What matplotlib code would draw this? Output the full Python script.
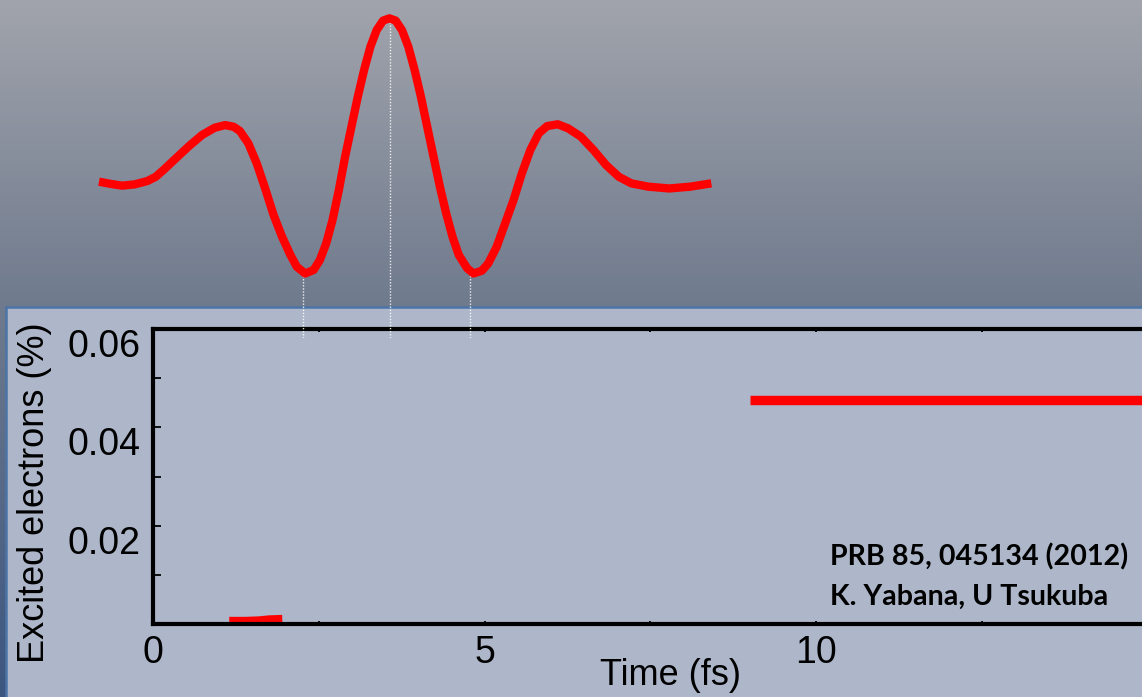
import numpy as np
import matplotlib.pyplot as plt
from matplotlib.patches import Rectangle
from matplotlib.colors import LinearSegmentedColormap

# Impulsion laser : champ électrique (unités arbitraires) en fonction du temps (fs)
temps_impulsion = [-0.815, -0.657, -0.466, -0.276, -0.085, 0.042, 0.169, 0.359,
                   0.549, 0.740, 0.930, 1.089, 1.216, 1.311, 1.438, 1.565,
                   1.692, 1.819, 1.946, 2.073, 2.168, 2.295, 2.422, 2.517,
                   2.612, 2.708, 2.803, 2.898, 2.993, 3.089, 3.184, 3.279,
                   3.374, 3.470, 3.565, 3.660, 3.755, 3.851, 3.946, 4.041,
                   4.136, 4.231, 4.327, 4.422, 4.517, 4.612, 4.739, 4.834,
                   4.961, 5.057, 5.184, 5.311, 5.438, 5.564, 5.691, 5.818,
                   5.945, 6.104, 6.263, 6.453, 6.644, 6.834, 7.025, 7.215,
                   7.469, 7.786, 8.104, 8.421]
champ_impulsion = [0.008, -0.004, -0.016, -0.008, 0.012, 0.038, 0.083, 0.155,
                   0.226, 0.291, 0.335, 0.351, 0.341, 0.315, 0.240, 0.119,
                   -0.033, -0.194, -0.325, -0.436, -0.507, -0.548, -0.527,
                   -0.467, -0.366, -0.224, -0.043, 0.160, 0.341, 0.523, 0.685,
                   0.826, 0.927, 0.984, 0.998, 0.984, 0.927, 0.826, 0.685,
                   0.523, 0.341, 0.160, -0.022, -0.184, -0.325, -0.436,
                   -0.517, -0.548, -0.531, -0.487, -0.386, -0.245, -0.103,
                   0.059, 0.200, 0.301, 0.345, 0.356, 0.331, 0.281, 0.200,
                   0.109, 0.038, -0.002, -0.022, -0.033, -0.022, -0.002]

# Extrema du champ, reliés au graphe par des pointillés
temps_extrema = [2.26, 3.57, 4.78]
champ_extrema = [-0.55, 0.99, -0.55]

# Proportion d'électrons excités (%)
temps_debut = [1.15, 1.40, 1.60, 1.75, 1.95]
excites_debut = [0.0005, 0.0005, 0.0006, 0.0008, 0.0009]
temps_fin = [9.0, 11.0, 13.0, 15.0]
excites_fin = [0.0455, 0.0455, 0.0455, 0.0455]

xticks = [0, 5, 10]
xticks_mineurs = [2.5, 7.5, 12.5]
yticks = [0.02, 0.04, 0.06]
yticks_labels = ["0.02", "0.04", "0.06"]
yticks_mineurs = [0.01, 0.03, 0.05]

plt.rcParams["font.family"] = ["Liberation Sans", "DejaVu Sans"]

fig = plt.figure(figsize=(11.42, 6.97), dpi=100)

###############################################################################
# Fond dégradé et cadre du graphe

fond = fig.add_axes([0, 0, 1, 1], zorder=0)
degrade = LinearSegmentedColormap.from_list(
    "fond", [(0, "#a1a4ac"), (0.43, "#707b8e"), (1, "#3c5680")]
)
fond.imshow(np.linspace(0, 1, 256).reshape(-1, 1), aspect="auto",
            cmap=degrade, extent=[0, 1142, 697, 0])
fond.add_patch(Rectangle((6, 307), 1160, 420, facecolor="#adb7c9",
                         edgecolor="#4b74a6", lw=1.8))
fond.set_xlim(0, 1142)
fond.set_ylim(697, 0)
fond.axis("off")

###############################################################################
# Électrons excités

ax = fig.add_axes([153 / 1142, 73 / 697, 994.5 / 1142, 295 / 697], zorder=1)
ax.patch.set_alpha(0)
ax.plot(temps_debut, excites_debut, color="red", lw=6.8, solid_capstyle="butt")
ax.plot(temps_fin, excites_fin, color="red", lw=6.8, solid_capstyle="butt")

ax.set_xlim(0, 15)
ax.set_ylim(0, 0.06)
ax.set_xticks(xticks)
ax.set_xticks(xticks_mineurs, minor=True)
ax.set_yticks(yticks)
ax.set_yticklabels(yticks_labels)
ax.set_yticks(yticks_mineurs, minor=True)
ax.tick_params(axis="y", which="both", direction="in", length=6, width=1.3,
               labelsize=27, pad=9)
ax.tick_params(axis="x", which="both", direction="in", length=2.5, width=1.3,
               top=True, labelsize=27, pad=8)
for lbl in ax.get_yticklabels():
    lbl.set_va("top")
for cote in ["left", "top", "bottom", "right"]:
    ax.spines[cote].set_linewidth(3)

ax.set_xlabel("Time (fs)", fontsize=26)
ax.xaxis.set_label_coords(0.52, -0.173)
ax.xaxis.label.set_va("center")
ax.set_ylabel("Excited electrons (%)", fontsize=26)
ax.yaxis.set_label_coords(-0.1187, 0.444)
ax.yaxis.label.set_va("center")

###############################################################################
# Impulsion laser au-dessus, sur la même échelle de temps

onde = fig.add_axes([153 / 1142, (697 - 338) / 697, 994.5 / 1142, 338 / 697],
                    zorder=2)
onde.patch.set_alpha(0)
onde.set_xlim(0, 15)
onde.set_ylim(-0.939, 1.109)
onde.vlines(temps_extrema, -0.939, champ_extrema, colors="white", lw=1,
            linestyles=(0, (1, 1.2)), alpha=0.85, zorder=1)
onde.plot(temps_impulsion, champ_impulsion, color="red", lw=6,
          solid_joinstyle="round", solid_capstyle="butt", clip_on=False,
          zorder=2)
onde.axis("off")

fig.text(830 / 1142, 1 - 557 / 697, "PRB 85, 045134 (2012)",
         family=["Lato", "DejaVu Sans"], fontweight="bold", fontsize=20.6,
         va="center", ha="left")
fig.text(830 / 1142, 1 - 597 / 697, "K. Yabana, U Tsukuba",
         family=["Lato", "DejaVu Sans"], fontweight="bold", fontsize=20.6,
         va="center", ha="left")

fig.savefig("out.png", dpi=100)
